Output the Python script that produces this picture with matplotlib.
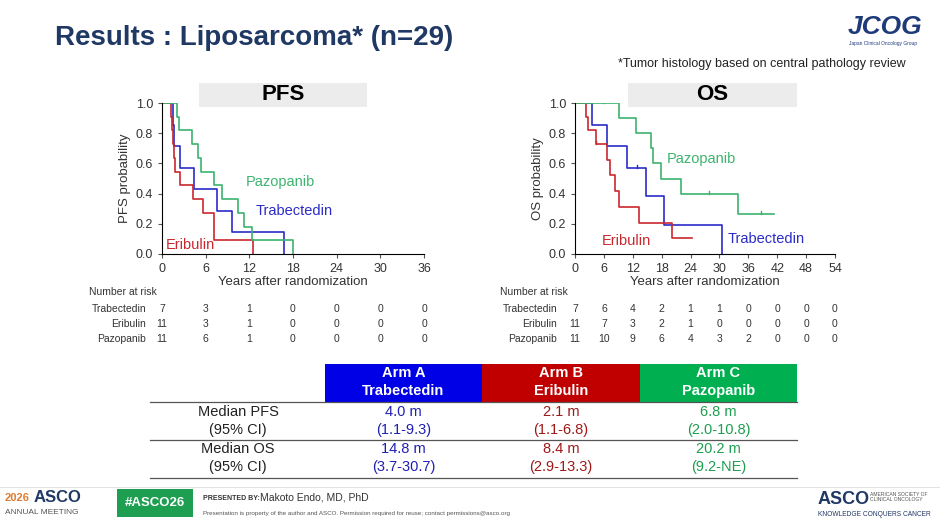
import matplotlib
matplotlib.use("Agg")
import matplotlib.pyplot as plt
from matplotlib.patches import Rectangle

plt.rcParams['font.family'] = ['Liberation Sans', 'DejaVu Sans']

arms = ["Trabectedin", "Eribulin", "Pazopanib"]
colors = {"Trabectedin": "#2b2bc8", "Eribulin": "#c8282d", "Pazopanib": "#3cb46e"}

# PFS step data (time, survival after step)
pfs_t = {"Trabectedin": [0, 1.5, 1.7, 2.5, 4.4, 7.5, 9.6, 16.7],
         "Eribulin": [0, 1.3, 1.4, 1.5, 1.6, 1.8, 2.5, 4.2, 5.6, 7.1, 12.5],
         "Pazopanib": [0, 2.0, 2.4, 4.1, 4.9, 5.4, 7.1, 8.2, 10.5, 11.2, 12.3, 18.0]}
pfs_s = {"Trabectedin": [1, 0.857, 0.714, 0.571, 0.429, 0.286, 0.143, 0],
         "Eribulin": [1, 0.909, 0.818, 0.727, 0.636, 0.545, 0.455, 0.364, 0.273, 0.091, 0],
         "Pazopanib": [1, 0.909, 0.818, 0.727, 0.636, 0.545, 0.455, 0.364, 0.273, 0.182, 0.091, 0]}
pfs_end = {"Trabectedin": 16.7, "Eribulin": 12.5, "Pazopanib": 18.0}
pfs_cens = {"Trabectedin": [], "Eribulin": [], "Pazopanib": []}

os_t = {"Trabectedin": [0, 3.6, 6.7, 10.9, 14.7, 18.4, 30.6],
        "Eribulin": [0, 2.3, 2.8, 4.4, 6.6, 7.3, 8.3, 9.1, 13.2, 20.1],
        "Pazopanib": [0, 9.1, 12.7, 15.7, 16.2, 17.8, 22.1, 33.9]}
os_s = {"Trabectedin": [1, 0.857, 0.714, 0.571, 0.381, 0.19, 0],
        "Eribulin": [1, 0.909, 0.818, 0.727, 0.62, 0.52, 0.415, 0.31, 0.207, 0.104],
        "Pazopanib": [1, 0.9, 0.8, 0.7, 0.6, 0.5, 0.4, 0.267]}
os_end = {"Trabectedin": 30.6, "Eribulin": 24.4, "Pazopanib": 41.4}
os_cens = {"Trabectedin": [12.8], "Eribulin": [4.4], "Pazopanib": [6.0, 27.9, 38.6]}

pfs_ticks = [0, 6, 12, 18, 24, 30, 36]
os_ticks = [0, 6, 12, 18, 24, 30, 36, 42, 48, 54]
pfs_risk = {"Trabectedin": [7, 3, 1, 0, 0, 0, 0],
            "Eribulin": [11, 3, 1, 0, 0, 0, 0],
            "Pazopanib": [11, 6, 1, 0, 0, 0, 0]}
os_risk = {"Trabectedin": [7, 6, 4, 2, 1, 1, 0, 0, 0, 0],
           "Eribulin": [11, 7, 3, 2, 1, 0, 0, 0, 0, 0],
           "Pazopanib": [11, 10, 9, 6, 4, 3, 2, 0, 0, 0]}

table_rows = ["Median PFS", "(95% CI)", "Median OS", "(95% CI)"]
table_vals = {"Trabectedin": ["4.0 m", "(1.1-9.3)", "14.8 m", "(3.7-30.7)"],
              "Eribulin": ["2.1 m", "(1.1-6.8)", "8.4 m", "(2.9-13.3)"],
              "Pazopanib": ["6.8 m", "(2.0-10.8)", "20.2 m", "(9.2-NE)"]}
table_head = {"Trabectedin": ("Arm A", "#0000e6"), "Eribulin": ("Arm B", "#c00000"),
              "Pazopanib": ("Arm C", "#00b050")}
val_colors = {"Trabectedin": "#1f1fb4", "Eribulin": "#a01818", "Pazopanib": "#1e9e50"}

W, H = 940, 525
fig = plt.figure(figsize=(9.4, 5.25), dpi=100)
fig.patch.set_facecolor("white")

def fx(x): return x / W
def fy(y): return 1 - y / H
def ftext(x, y, s, **kw):
    fig.text(fx(x), fy(y), s, **kw)

ftext(55, 38, "Results : Liposarcoma* (n=29)", fontsize=20, fontweight="bold", color="#1f3864", va="center")
ftext(848, 27, "JCOG", fontsize=19, fontweight="bold", style="italic", color="#1f3a7a", va="center")
ftext(849, 44, "Japan Clinical Oncology Group", fontsize=3.5, color="#1f3a7a", va="center")
ftext(906, 64, "*Tumor histology based on central pathology review", fontsize=9, ha="right", va="center", color="#222222")

def km(ax, T, S, END, CENS, ticks, ylabel, labels):
    for a in arms:
        t = T[a] + [END[a]]
        s = S[a] + [S[a][-1]]
        ax.step(t, s, where="post", color=colors[a], lw=1.2)
        for c in CENS[a]:
            idx = max(i for i, tt in enumerate(T[a]) if tt <= c)
            ax.plot([c, c], [S[a][idx], S[a][idx] + 0.02], color=colors[a], lw=1)
    ax.set_xlim(0, ticks[-1])
    ax.set_ylim(0, 1.0)
    ax.set_xticks(ticks)
    ax.set_yticks([0, 0.2, 0.4, 0.6, 0.8, 1.0])
    ax.set_yticklabels(["0.0", "0.2", "0.4", "0.6", "0.8", "1.0"])
    for sp in ["top", "right"]:
        ax.spines[sp].set_visible(False)
    ax.tick_params(labelsize=9, length=3, color="#555555", labelcolor="#333333")
    ax.set_ylabel(ylabel, fontsize=9.5, color="#333333", labelpad=3)
    ax.set_xlabel("Years after randomization", fontsize=9.5, color="#333333", labelpad=1)
    for a, (x, y) in labels.items():
        ax.text(x, y, a, color=colors[a], fontsize=10.5, transform=ax.transData)

ax1 = fig.add_axes([fx(162), fy(254), (424 - 162) / W, (254 - 103) / H])
km(ax1, pfs_t, pfs_s, pfs_end, pfs_cens, pfs_ticks, "PFS probability",
   {"Pazopanib": (11.5, 0.45), "Trabectedin": (12.8, 0.26), "Eribulin": (0.5, 0.03)})
ax2 = fig.add_axes([fx(575), fy(254), (835 - 575) / W, (254 - 103) / H])
km(ax2, os_t, os_s, os_end, os_cens, os_ticks, "OS probability",
   {"Pazopanib": (19.0, 0.6), "Trabectedin": (31.6, 0.07), "Eribulin": (5.6, 0.06)})

# title boxes
for x0, x1, lab in [(199, 367, "PFS"), (628, 797, "OS")]:
    fig.patches.append(Rectangle((fx(x0), fy(107)), (x1 - x0) / W, 24 / H, transform=fig.transFigure,
                                 facecolor="#ececec", edgecolor="none"))
    ftext((x0 + x1) / 2, 94, lab, fontsize=16, fontweight="bold", ha="center", va="center")

def risk(x0px, x1px, ticks, R, lx):
    ftext(lx, 292, "Number at risk", fontsize=7.5, va="center", color="#333333")
    for i, a in enumerate(arms):
        y = 309 + i * 15
        ftext(lx + 57, y, a, fontsize=7.5, ha="right", va="center", color="#333333")
        for t, n in zip(ticks, R[a]):
            x = x0px + (x1px - x0px) * t / ticks[-1]
            ftext(x, y, str(n), fontsize=7.5, ha="center", va="center", color="#333333")

risk(162, 424, pfs_ticks, pfs_risk, 89)
risk(575, 835, os_ticks, os_risk, 500)

# table
cols = [(325, 482), (482, 640), (640, 797)]
for (x0, x1), a in zip(cols, arms):
    lab, col = table_head[a]
    fig.patches.append(Rectangle((fx(x0), fy(402)), (x1 - x0) / W, 38 / H, transform=fig.transFigure,
                                 facecolor=col, edgecolor="none"))
    ftext((x0 + x1) / 2, 373, lab, fontsize=10.5, fontweight="bold", color="white", ha="center", va="center")
    ftext((x0 + x1) / 2, 391, a, fontsize=10.5, fontweight="bold", color="white", ha="center", va="center")
    for j, v in enumerate(table_vals[a]):
        ftext((x0 + x1) / 2, 412 + j * 18.3, v, fontsize=10.5, color=val_colors[a], ha="center", va="center")
for j, r in enumerate(table_rows):
    ftext(238, 412 + j * 18.3, r, fontsize=10.5, ha="center", va="center", color="#222222")
for y in [402, 440, 478]:
    fig.add_artist(plt.Line2D([fx(150), fx(797)], [fy(y), fy(y)], color="#555555", lw=0.9))

# footer
fig.add_artist(plt.Line2D([0, 1], [fy(487), fy(487)], color="#dddddd", lw=0.6))
ftext(5, 498, "2026", fontsize=8, fontweight="bold", color="#e07a2c", va="center")
ftext(34, 498, "ASCO", fontsize=12, fontweight="bold", color="#1f3864", va="center")
ftext(5, 513, "ANNUAL MEETING", fontsize=6, color="#555555", va="center")
fig.patches.append(Rectangle((fx(117), fy(517)), 76 / W, 28 / H, transform=fig.transFigure,
                             facecolor="#1e9e50", edgecolor="none"))
ftext(155, 503, "#ASCO26", fontsize=9.5, fontweight="bold", color="white", ha="center", va="center")
ftext(203, 499, "PRESENTED BY:", fontsize=5, fontweight="bold", color="#333333", va="center")
ftext(260, 498, "Makoto Endo, MD, PhD", fontsize=7.5, color="#333333", va="center")
ftext(203, 513, "Presentation is property of the author and ASCO. Permission required for reuse; contact permissions@asco.org",
      fontsize=4.5, color="#555555", va="center")
ftext(818, 500, "ASCO", fontsize=13, fontweight="bold", color="#1f3864", va="center")
ftext(870, 497, "AMERICAN SOCIETY OF\nCLINICAL ONCOLOGY", fontsize=3.6, color="#555555", va="center")
ftext(818, 515, "KNOWLEDGE CONQUERS CANCER", fontsize=4.8, color="#1f3864", va="center")

fig.savefig("out.png", dpi=100, facecolor="white")
